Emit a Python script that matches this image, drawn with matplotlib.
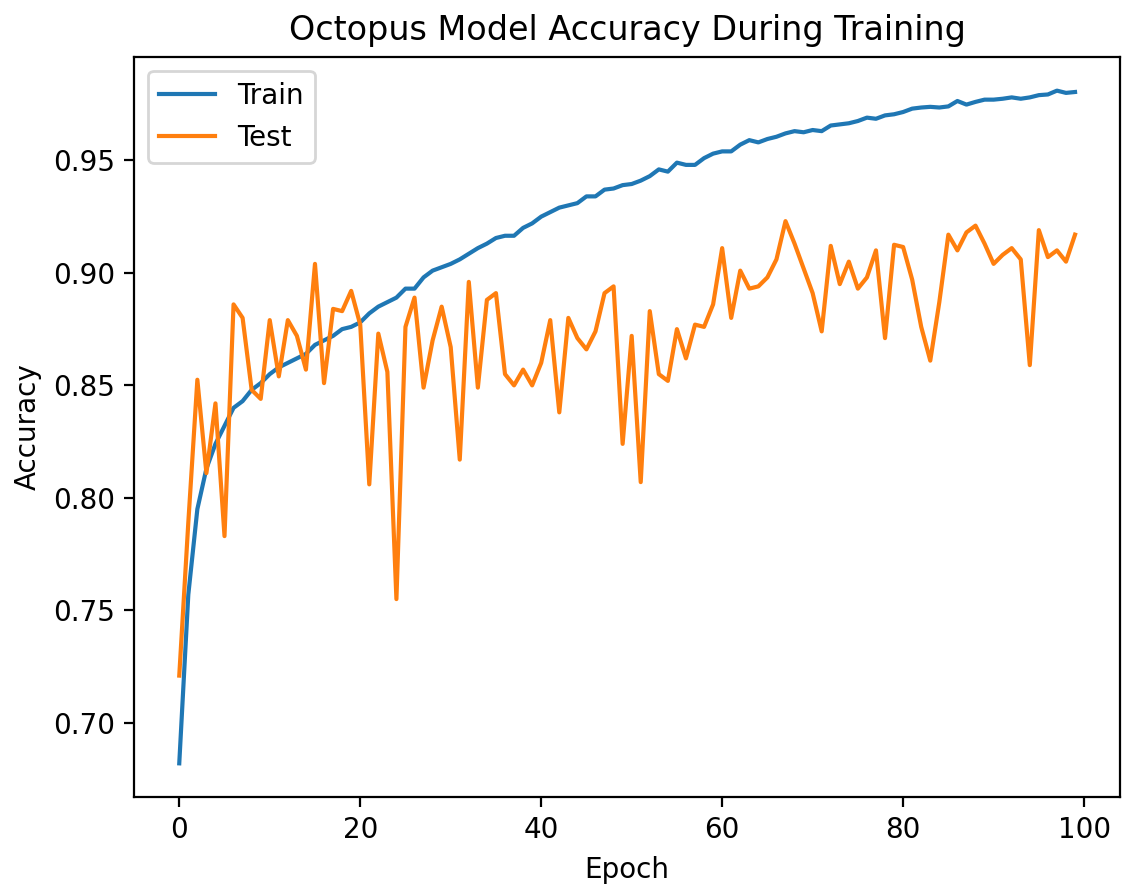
import matplotlib
matplotlib.use("Agg")
import matplotlib.pyplot as plt

# accuracy per epoch
train_acc = [
    0.682, 0.757, 0.795, 0.813, 0.824, 0.832, 0.840, 0.843, 0.848, 0.851,
    0.855, 0.858, 0.860, 0.862, 0.864, 0.868, 0.870, 0.872, 0.875, 0.876,
    0.878, 0.882, 0.885, 0.887, 0.889, 0.893, 0.893, 0.898, 0.901, 0.9025,
    0.904, 0.906, 0.9085, 0.911, 0.913, 0.9155, 0.9165, 0.9165, 0.920, 0.922,
    0.925, 0.927, 0.929, 0.930, 0.931, 0.934, 0.934, 0.937, 0.9375, 0.939,
    0.9395, 0.941, 0.943, 0.946, 0.945, 0.949, 0.948, 0.948, 0.951, 0.953,
    0.954, 0.954, 0.957, 0.959, 0.958, 0.9595, 0.9605, 0.962, 0.963, 0.9625,
    0.9635, 0.963, 0.9655, 0.966, 0.9665, 0.9675, 0.969, 0.9685, 0.970, 0.9705,
    0.9715, 0.973, 0.9735, 0.9738, 0.9735, 0.974, 0.9764, 0.9748, 0.976, 0.977,
    0.977, 0.9774, 0.978, 0.9774, 0.978, 0.979, 0.9793, 0.981, 0.980, 0.9804,
]

test_acc = [
    0.721, 0.789, 0.8525, 0.811, 0.842, 0.783, 0.886, 0.880, 0.848, 0.844,
    0.879, 0.854, 0.879, 0.872, 0.857, 0.904, 0.851, 0.884, 0.883, 0.892,
    0.877, 0.806, 0.873, 0.856, 0.755, 0.876, 0.889, 0.849, 0.870, 0.885,
    0.867, 0.817, 0.896, 0.849, 0.888, 0.891, 0.855, 0.850, 0.857, 0.850,
    0.860, 0.879, 0.838, 0.880, 0.871, 0.866, 0.874, 0.891, 0.894, 0.824,
    0.872, 0.807, 0.883, 0.855, 0.852, 0.875, 0.862, 0.877, 0.876, 0.886,
    0.911, 0.880, 0.901, 0.893, 0.894, 0.898, 0.906, 0.923, 0.913, 0.902,
    0.891, 0.874, 0.912, 0.895, 0.905, 0.893, 0.898, 0.910, 0.871, 0.9125,
    0.9115, 0.897, 0.876, 0.861, 0.887, 0.917, 0.910, 0.918, 0.921, 0.913,
    0.904, 0.908, 0.911, 0.906, 0.859, 0.919, 0.907, 0.910, 0.905, 0.917,
]

title = "Octopus Model Accuracy During Training"
series_names = ["Train", "Test"]

DPI = 200
fig = plt.figure(figsize=(1130 / DPI, 888 / DPI), dpi=DPI)
ax = fig.add_axes([0.119, 0.1025, 0.872, 0.8333])

ax.plot(train_acc, label=series_names[0])
ax.plot(test_acc, label=series_names[1])

ax.set_title(title)
ax.set_xlabel("Epoch")
ax.set_ylabel("Accuracy")
ax.legend(loc="upper left")

fig.savefig("out.png", dpi=DPI)
